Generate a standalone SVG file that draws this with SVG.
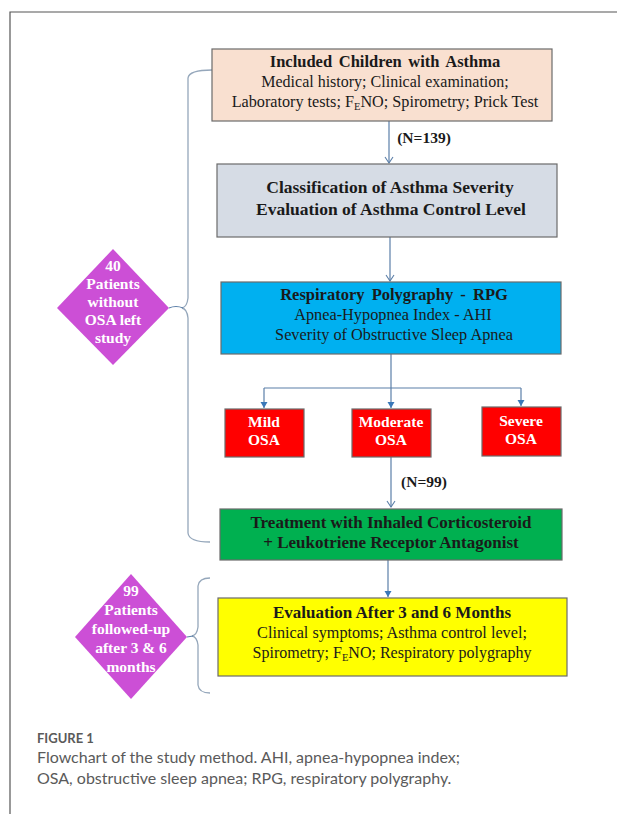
<svg xmlns="http://www.w3.org/2000/svg" width="617" height="814" viewBox="0 0 617 814">
<defs>
<marker id="open" markerWidth="10" markerHeight="10" refX="8" refY="5" orient="auto" markerUnits="userSpaceOnUse" viewBox="0 0 10 10">
<path d="M2,1 L8,5 L2,9" fill="none" stroke="#5b7fa8" stroke-width="1.1"/>
</marker>
<marker id="fill" markerWidth="8" markerHeight="8" refX="7" refY="4" orient="auto" markerUnits="userSpaceOnUse" viewBox="0 0 8 8">
<path d="M1,0.5 L7,4 L1,7.5 Z" fill="#3a78b8"/>
</marker>
</defs>
<style>
.box{stroke:#6b6b6b;stroke-width:1.2}
.t{text-anchor:middle;fill:#1a1a1a}
.b{font-weight:bold}
.w{fill:#ffffff;font-weight:bold}
.c{fill:none;stroke:#5b7fa8;stroke-width:1.2}
.br{fill:none;stroke:#95a7bb;stroke-width:1.3}
.cap{fill:#5a5a5a}
</style>
<rect width="617" height="814" fill="#ffffff"/>
<path d="M10,814 L10,12 L617,12" fill="none" stroke="#555555" stroke-width="1.2"/>

<g id="connectors">
<path class="c" d="M389,121 L389,163" marker-end="url(#open)"/>
<path class="c" d="M390,237 L390,281" marker-end="url(#open)"/>
<path class="c" d="M391,354 L391,388"/>
<path class="c" d="M264,388 L521,388"/>
<path class="c" d="M264,388 L264,408" marker-end="url(#fill)"/>
<path class="c" d="M391,388 L391,408" marker-end="url(#fill)"/>
<path class="c" d="M521,388 L521,406" marker-end="url(#fill)"/>
<path class="c" d="M391,457 L391,507" marker-end="url(#open)"/>
<path class="c" d="M388,560 L388,597" marker-end="url(#fill)"/>
<path class="br" d="M212,70 Q189,70 188,78 L188,298 Q187,307 182,308 Q187,309 188,318 L188,533 Q189,542 210,542"/>
<path class="c" d="M169,308 Q176,305 183,308"/>
<path class="br" d="M210,578 Q199,578 198,586 L198,627 Q197,635 192,636 Q197,637 198,645 L198,685 Q199,693 210,693"/>
<path class="c" d="M187,637 L193,636"/>
</g>

<g font-family="'Liberation Serif', 'Times New Roman', 'DejaVu Serif', serif">
<g id="n1">
<rect class="box" x="212" y="49" width="340" height="72" fill="#f9e0d0"/>
<text class="t b" x="385" y="67" font-size="16.5" word-spacing="2.5">Included Children with Asthma</text>
<text class="t" x="385" y="87" font-size="16">Medical history; Clinical examination;</text>
<text class="t" x="385" y="107" font-size="16.2">Laboratory tests; F<tspan font-size="10.5" dy="3">E</tspan><tspan dy="-3">NO; Spirometry; Prick Test</tspan></text>
</g>
<text class="t b" x="424" y="143" font-size="15.5">(N=139)</text>

<g id="n2">
<rect class="box" x="217" y="164" width="340" height="73" fill="#d6dce5"/>
<text class="t b" x="390" y="193" font-size="17.5">Classification of Asthma Severity</text>
<text class="t b" x="391" y="215" font-size="17.5">Evaluation of Asthma Control Level</text>
</g>

<g id="n3">
<rect class="box" x="221" y="282" width="340" height="72" fill="#00b0f0"/>
<text class="t b" x="394" y="300" font-size="16.5" word-spacing="3">Respiratory Polygraphy - RPG</text>
<text class="t" x="393" y="320" font-size="16.3">Apnea-Hypopnea Index - AHI</text>
<text class="t" x="394" y="340" font-size="16.3">Severity of Obstructive Sleep Apnea</text>
</g>

<g id="mild">
<rect class="box" x="225" y="409" width="79" height="48" fill="#ff0000"/>
<text class="t w" x="264" y="427" font-size="15.5">Mild</text>
<text class="t w" x="264" y="445" font-size="15.5">OSA</text>
</g>
<g id="moderate">
<rect class="box" x="352" y="409" width="79" height="48" fill="#ff0000"/>
<text class="t w" x="391" y="427" font-size="15.5">Moderate</text>
<text class="t w" x="391" y="445" font-size="15.5">OSA</text>
</g>
<g id="severe">
<rect class="box" x="482" y="407" width="79" height="49" fill="#ff0000"/>
<text class="t w" x="521" y="426" font-size="15.5">Severe</text>
<text class="t w" x="521" y="444" font-size="15.5">OSA</text>
</g>
<text class="t b" x="424" y="487" font-size="15.5">(N=99)</text>

<g id="n4">
<rect class="box" x="220" y="509" width="342" height="51" fill="#00b050"/>
<text class="t b" x="391" y="528" font-size="17">Treatment with Inhaled Corticosteroid</text>
<text class="t b" x="391" y="548" font-size="17">+ Leukotriene Receptor Antagonist</text>
</g>

<g id="n5">
<rect class="box" x="218" y="598" width="349" height="78" fill="#ffff00"/>
<text class="t b" x="392" y="618" font-size="17">Evaluation After 3 and 6 Months</text>
<text class="t" x="392" y="638" font-size="16.2">Clinical symptoms; Asthma control level;</text>
<text class="t" x="392" y="658" font-size="16">Spirometry; F<tspan font-size="10.5" dy="3">E</tspan><tspan dy="-3">NO; Respiratory polygraphy</tspan></text>
</g>

<g id="d1">
<polygon points="113,249 169,308 113,365 57,308" fill="#cc4fd6"/>
<text class="t w" x="113" y="271" font-size="15.5">40</text>
<text class="t w" x="113" y="289" font-size="15.5">Patients</text>
<text class="t w" x="113" y="307" font-size="15.5">without</text>
<text class="t w" x="113" y="325" font-size="15.5">OSA left</text>
<text class="t w" x="113" y="343" font-size="15.5">study</text>
</g>

<g id="d2">
<polygon points="131,574 187,637 131,699 75,637" fill="#cc4fd6"/>
<text class="t w" x="131" y="596" font-size="15.5">99</text>
<text class="t w" x="131" y="615" font-size="15.5">Patients</text>
<text class="t w" x="131" y="634" font-size="15.5">followed-up</text>
<text class="t w" x="131" y="653" font-size="15.5">after 3 &amp; 6</text>
<text class="t w" x="131" y="672" font-size="15.5">months</text>
</g>
</g>

<g font-family="Lato, 'Open Sans', sans-serif">
<text class="cap" x="37" y="743" font-size="13" font-weight="bold">FIGURE 1</text>
<text class="cap" x="37" y="763" font-size="16">Flowchart of the study method. AHI, apnea-hypopnea index;</text>
<text class="cap" x="37" y="784" font-size="16">OSA, obstructive sleep apnea; RPG, respiratory polygraphy.</text>
</g>
</svg>
